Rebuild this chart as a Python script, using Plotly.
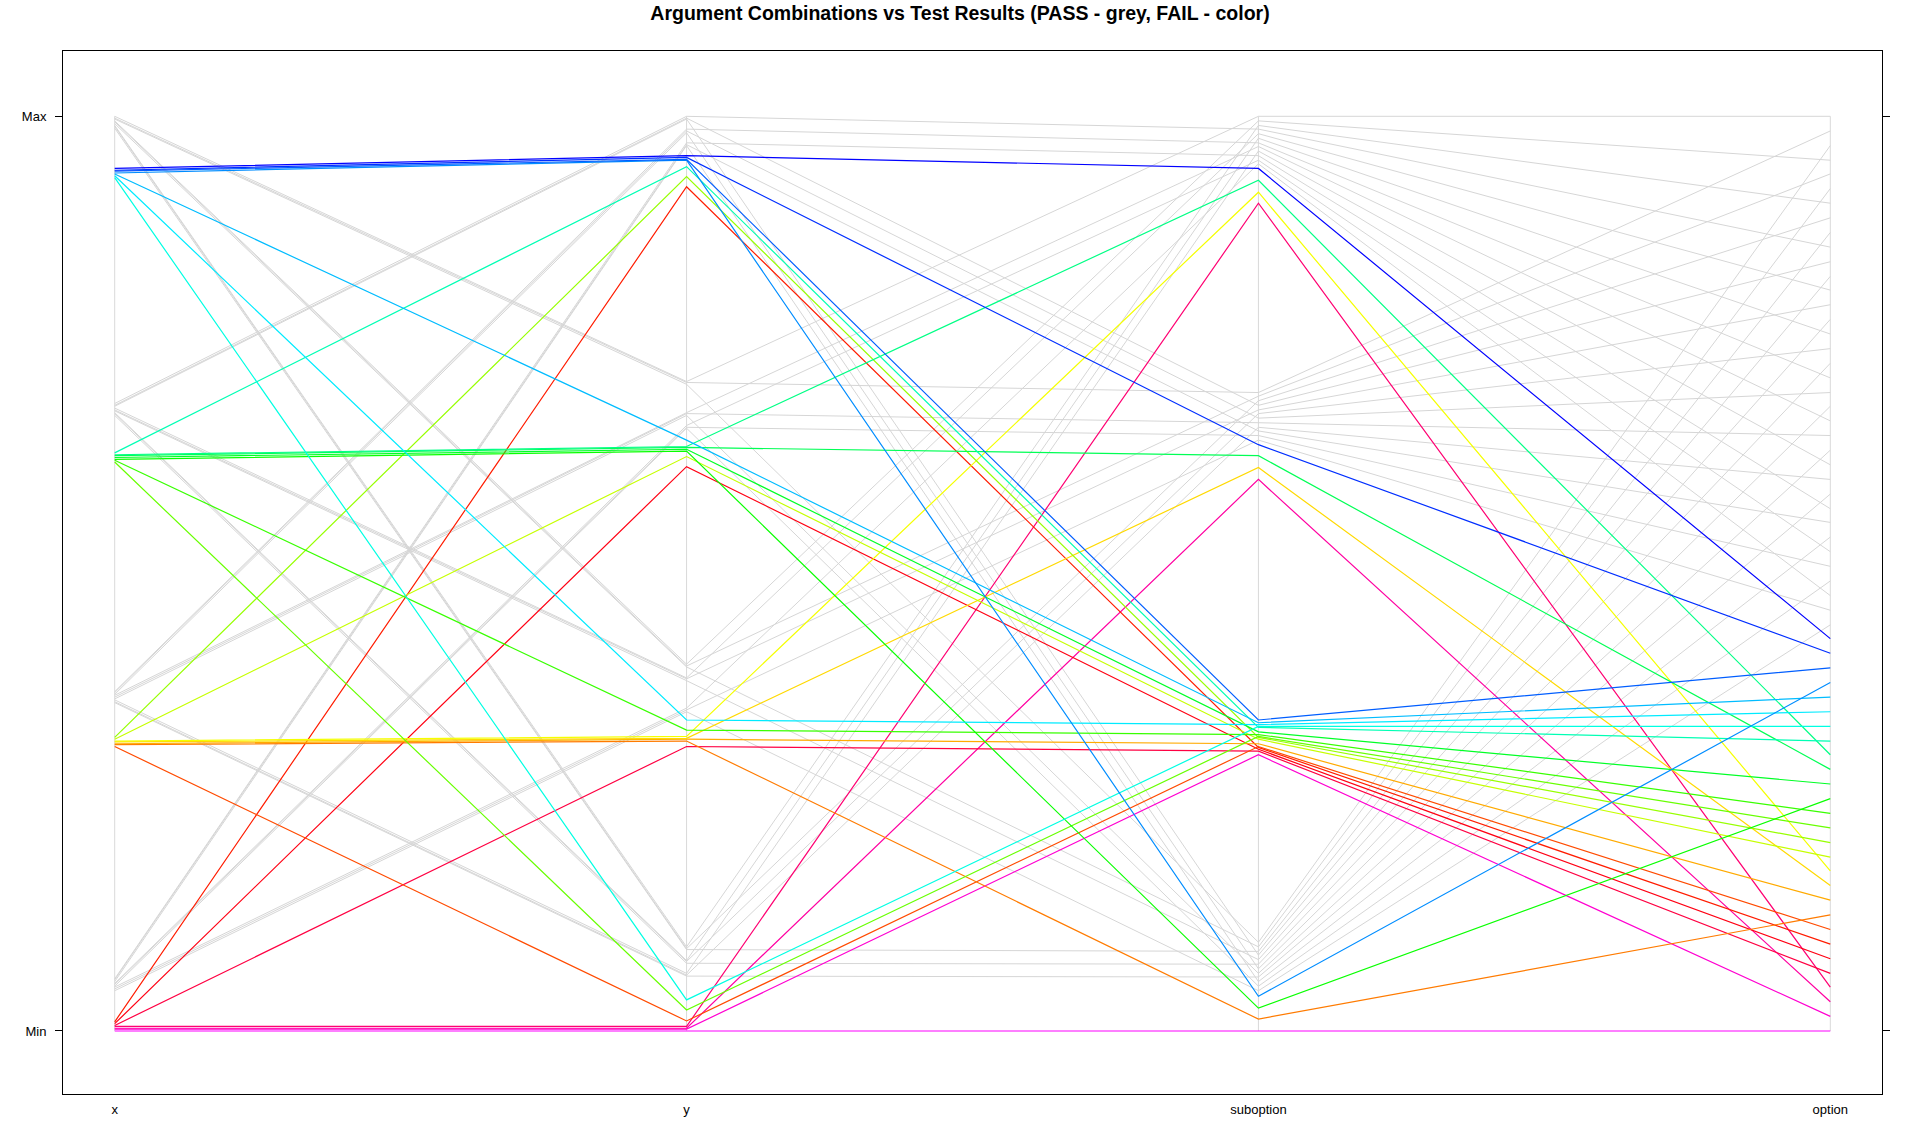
import colorsys
import plotly.graph_objects as go

# ---- data (each column already on parcoord's 0..1 scale, one row per argument combination) ----
axis_names = ["x", "y", "suboption", "option"]

x_vals = [0.000, 0.002, 0.003, 0.005, 0.006, 0.008, 0.010, 0.311, 0.313, 0.314,
          0.316, 0.317, 0.319, 0.321, 0.622, 0.624, 0.625, 0.627, 0.629, 0.630,
          0.632, 0.933, 0.935, 0.937, 0.938, 0.940, 0.941, 0.943,
          0.044, 0.046, 0.048, 0.049, 0.051, 0.052, 0.054, 0.056, 0.057,
          0.359, 0.360, 0.362, 0.363, 0.365, 0.367, 0.368, 0.370, 0.371,
          0.673, 0.675, 0.676, 0.678, 0.679, 0.681, 0.683, 0.684, 0.686,
          0.987, 0.989, 0.990, 0.992, 0.994, 0.995, 0.997, 0.998, 1.000]

y_vals = [0.000, 0.002, 0.003, 0.005, 0.311, 0.617, 0.923, 0.011, 0.317, 0.319,
          0.320, 0.322, 0.628, 0.934, 0.023, 0.329, 0.634, 0.636, 0.638, 0.639,
          0.945, 0.034, 0.340, 0.646, 0.952, 0.953, 0.955, 0.957,
          0.349, 0.351, 0.353, 0.659, 0.660, 0.662, 0.968, 0.969, 0.971,
          0.060, 0.061, 0.063, 0.673, 0.675, 0.676, 0.982, 0.984, 0.986,
          0.074, 0.076, 0.077, 0.383, 0.385, 0.386, 0.997, 0.998, 1.000,
          0.089, 0.090, 0.092, 0.398, 0.399, 0.401, 0.707, 0.709, 0.710]

suboption_vals = [0.000, 0.302, 0.603, 0.905, 0.306, 0.308, 0.310, 0.311, 0.013, 0.314,
                  0.616, 0.917, 0.319, 0.321, 0.322, 0.324, 0.025, 0.327, 0.629, 0.930,
                  0.332, 0.333, 0.335, 0.337, 0.038, 0.340, 0.641, 0.943,
                  0.044, 0.646, 0.948, 0.049, 0.651, 0.952, 0.054, 0.656, 0.957,
                  0.059, 0.660, 0.962, 0.063, 0.665, 0.967, 0.068, 0.670, 0.971,
                  0.073, 0.675, 0.976, 0.078, 0.679, 0.981, 0.083, 0.684, 0.986,
                  0.087, 0.689, 0.990, 0.092, 0.694, 0.995, 0.097, 0.698, 1.000]

option_vals = [0.000, 0.016, 0.032, 0.048, 0.063, 0.079, 0.095, 0.111, 0.127, 0.143,
               0.159, 0.175, 0.190, 0.206, 0.222, 0.238, 0.254, 0.270, 0.286, 0.302,
               0.317, 0.333, 0.349, 0.365, 0.381, 0.397, 0.413, 0.429,
               0.444, 0.460, 0.476, 0.492, 0.508, 0.524, 0.540, 0.556, 0.571,
               0.587, 0.603, 0.619, 0.635, 0.651, 0.667, 0.683, 0.698, 0.714,
               0.730, 0.746, 0.762, 0.778, 0.794, 0.810, 0.825, 0.841, 0.857,
               0.873, 0.889, 0.905, 0.921, 0.937, 0.952, 0.968, 0.984, 1.000]

# test result per row: 1 = FAIL (coloured), 0 = PASS (grey)
result = [1] * 28 + [0] * 36

# ---- parcoord-style rescaling of each column to [0, 1] ----
def rescale(col):
    lo, hi = min(col), max(col)
    return [(v - lo) / (hi - lo) for v in col]

columns = [rescale(x_vals), rescale(y_vals), rescale(suboption_vals), rescale(option_vals)]
positions = [1, 2, 3, 4]
n_rows = len(result)

fail_idx = [i for i in range(n_rows) if result[i] == 1]
pass_idx = [i for i in range(n_rows) if result[i] == 0]

def fail_colour(j):
    h = (0.833 + j * 0.0309) % 1.0
    r, g, b = colorsys.hsv_to_rgb(h, 1.0, 1.0)
    return "rgb(%d,%d,%d)" % (round(r * 255), round(g * 255), round(b * 255))

fig = go.Figure()

# vertical axis lines
for p in positions:
    fig.add_trace(go.Scatter(x=[p, p], y=[0, 1], mode="lines",
                             line=dict(color="#d9d9d9", width=1),
                             hoverinfo="skip", showlegend=False))

# PASS rows in grey
gx, gy = [], []
for i in pass_idx:
    gx += positions + [None]
    gy += [c[i] for c in columns] + [None]
fig.add_trace(go.Scatter(x=gx, y=gy, mode="lines",
                         line=dict(color="#d6d6d6", width=1),
                         hoverinfo="skip", showlegend=False))

# FAIL rows coloured
for j, i in enumerate(fail_idx):
    fig.add_trace(go.Scatter(x=positions, y=[c[i] for c in columns], mode="lines",
                             line=dict(color=fail_colour(j), width=1.2),
                             hoverinfo="skip", showlegend=False))

font_family = "Liberation Sans, Arial, sans-serif"

fig.update_layout(
    width=1920, height=1133,
    margin=dict(l=63, r=38, t=51, b=39, pad=0),
    paper_bgcolor="white", plot_bgcolor="white",
    font=dict(family=font_family, size=13, color="black"),
    title=dict(text="<b>Argument Combinations vs Test Results (PASS - grey, FAIL - color)</b>",
               x=0.5, xanchor="center", y=1 - 13.5 / 1133, yanchor="middle",
               font=dict(family=font_family, size=19.5, color="black")),
    xaxis=dict(range=[0.9096, 4.0904], tickvals=positions, ticktext=axis_names,
               ticks="", showline=True, mirror=True, linecolor="black", linewidth=1,
               showgrid=False, zeroline=False, ticklabelstandoff=3,
               tickfont=dict(size=13, color="black")),
    yaxis=dict(range=[-0.0689, 1.0714], tickvals=[0, 1], ticktext=["Min", "Max"],
               ticks="outside", ticklen=7, tickcolor="black", tickwidth=1,
               showline=True, mirror="ticks", linecolor="black", linewidth=1,
               showgrid=False, zeroline=False, ticklabelstandoff=6,
               tickfont=dict(size=13, color="black")),
)

fig.write_html("out.html",
               config={"displayModeBar": False},
               post_script="document.body.style.margin='0';document.body.style.overflow='hidden';")
